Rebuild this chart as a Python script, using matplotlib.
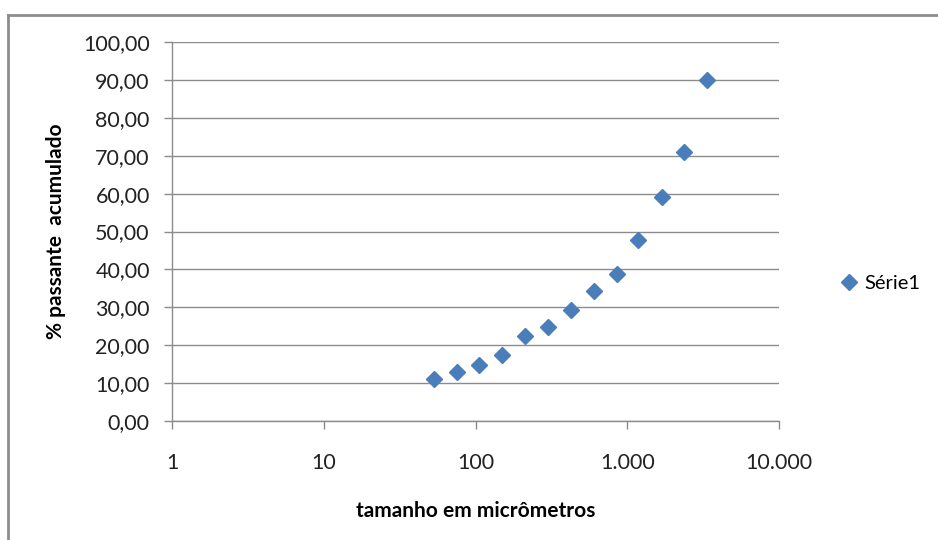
import matplotlib
matplotlib.use("Agg")
import matplotlib.pyplot as plt
from matplotlib.lines import Line2D
from matplotlib.ticker import FixedLocator, FuncFormatter, NullLocator

plt.rcParams['font.family'] = ['Lato', 'DejaVu Sans']

tamanho = [53, 75, 106, 150, 212, 300, 425, 600, 850, 1180, 1700, 2360, 3350]
passante = [11.1, 12.9, 14.9, 17.4, 22.4, 24.8, 29.4, 34.2, 38.8, 47.8, 59.1, 70.9, 90.1]
x_ticks = [1, 10, 100, 1000, 10000]
x_labels = ["1", "10", "100", "1.000", "10.000"]
y_ticks = [0, 10, 20, 30, 40, 50, 60, 70, 80, 90, 100]
serie_nome = "Série1"

W, H = 938, 540
fig = plt.figure(figsize=(W / 100, H / 100), dpi=100)
ax = fig.add_axes([172 / W, 1 - 421 / H, (779 - 172) / W, (421 - 42) / H])

blue = "#4a7ebb"
gray = "#8c8c8c"

ax.plot(tamanho, passante, linestyle="none", marker="D", markersize=8,
        color=blue, markeredgecolor=blue, label=serie_nome, clip_on=False)

ax.set_xscale("log")
ax.set_xlim(1, 10000)
ax.set_ylim(0, 100)
ax.xaxis.set_major_locator(FixedLocator(x_ticks))
ax.xaxis.set_minor_locator(NullLocator())
ax.set_xticklabels(x_labels)
ax.set_yticks(y_ticks)
ax.yaxis.set_major_formatter(FuncFormatter(lambda v, p: f"{v:.2f}".replace(".", ",")))

ax.grid(axis="y", color=gray, linewidth=1.0)
ax.set_axisbelow(True)
for s in ["top", "right"]:
    ax.spines[s].set_visible(False)
for s in ["left", "bottom"]:
    ax.spines[s].set_color(gray)
    ax.spines[s].set_linewidth(1.0)
ax.tick_params(axis="both", direction="out", length=6, width=1, color=gray,
               labelsize=15.5, labelcolor="#222222")
ax.tick_params(axis="x", pad=17)
ax.tick_params(axis="y", pad=10)

ax.set_xlabel("tamanho em micrômetros", fontsize=15, fontweight="bold", labelpad=20)
ax.set_ylabel("% passante  acumulado", fontsize=15, fontweight="bold", labelpad=12)

leg = fig.legend(loc="center left", bbox_to_anchor=(842 / W, 1 - 283 / H),
                 frameon=False, fontsize=14.5, handlelength=0.7, handletextpad=0.4,
                 borderaxespad=0, borderpad=0)

# outer chart frame (top and left edges visible)
fig.add_artist(Line2D([8 / W, 1.0], [1 - 15 / H, 1 - 15 / H], color=gray,
                      linewidth=2, transform=fig.transFigure))
fig.add_artist(Line2D([8 / W, 8 / W], [1 - 15 / H, 0.0], color=gray,
                      linewidth=2, transform=fig.transFigure))

fig.savefig("out.png", dpi=100)
